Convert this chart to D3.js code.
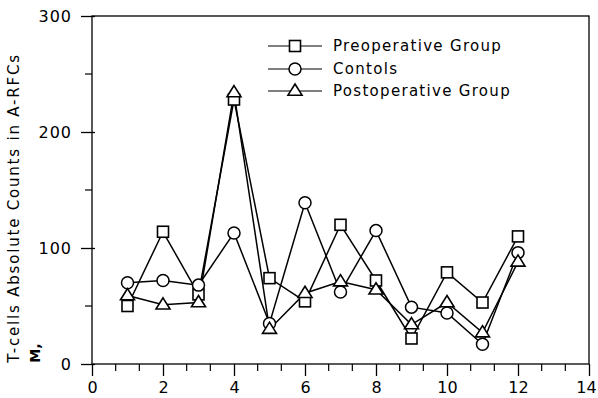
<!DOCTYPE html>
<html>
<head>
<meta charset="utf-8">
<script src="https://cdn.jsdelivr.net/npm/d3@7"></script>
<style>
  html, body { margin: 0; padding: 0; background: #fff; }
  text { font-family: "DejaVu Sans", sans-serif; fill: #000; }
</style>
</head>
<body>
<svg id="chart" width="598" height="398"></svg>
<script>
// Months of observation
const months = [1, 2, 3, 4, 5, 6, 7, 8, 9, 10, 11, 12];
// T-cell absolute counts in A-RFCs per group
const preoperative  = [50, 114, 60, 228, 74, 54, 120, 72, 22, 79, 53, 110];
const controls      = [70, 72, 68, 113, 35, 139, 62, 115, 49, 44, 17, 96];
const postoperative = [59, 51, 53, 234, 30, 61, 71, 64, 34, 53, 27, 88];
const seriesNames = ["Preoperative Group", "Contols", "Postoperative Group"];
const xTicks = [0, 2, 4, 6, 8, 10, 12, 14];
const yTicks = [0, 100, 200, 300];
const yLabel = "T-cells Absolute Counts in  A-RFCs";

const svg = d3.select("#chart");
const plotLeft = 92, plotRight = 589, plotTop = 16, plotBottom = 364;

const x = d3.scaleLinear().domain([0, 14]).range([plotLeft, plotRight]);
const y = d3.scaleLinear().domain([0, 300]).range([plotBottom, plotTop]);

// Frame
svg.append("rect")
  .attr("x", plotLeft).attr("y", plotTop)
  .attr("width", plotRight - plotLeft).attr("height", plotBottom - plotTop)
  .attr("fill", "none").attr("stroke", "#000").attr("stroke-width", 1.3);

// Minor ticks: thirds of each 2-unit step on x, halves on y
const xMinor = d3.range(0, 14.0001, 2 / 3).filter(v => Math.abs(v / 2 - Math.round(v / 2)) > 0.01);
svg.append("g").selectAll("line").data(xMinor).join("line")
  .attr("x1", d => x(d)).attr("x2", d => x(d))
  .attr("y1", plotBottom).attr("y2", plotBottom + 7)
  .attr("stroke", "#000").attr("stroke-width", 1.2);
const yMinor = [50, 150, 250];
svg.append("g").selectAll("line").data(yMinor).join("line")
  .attr("x1", plotLeft - 7).attr("x2", plotLeft)
  .attr("y1", d => y(d)).attr("y2", d => y(d))
  .attr("stroke", "#000").attr("stroke-width", 1.2);

// Axes with major ticks
const xAxis = d3.axisBottom(x).tickValues(xTicks).tickSize(12).tickPadding(6).tickFormat(d3.format("d"));
const gx = svg.append("g").attr("transform", `translate(0,${plotBottom})`).call(xAxis);
gx.select(".domain").remove();
gx.selectAll("line").attr("stroke", "#000").attr("stroke-width", 1.3);
gx.selectAll("text").attr("font-size", 16).attr("font-family", "DejaVu Sans, sans-serif")
  .attr("dx", d => d === 14 ? -3 : 0);

const yAxis = d3.axisLeft(y).tickValues(yTicks).tickSize(12).tickPadding(8).tickFormat(d3.format("d"));
const gy = svg.append("g").attr("transform", `translate(${plotLeft},0)`).call(yAxis);
gy.select(".domain").remove();
gy.selectAll("line").attr("stroke", "#000").attr("stroke-width", 1.3).attr("x2", 3).attr("x1", -11);
gy.selectAll("text").attr("font-size", 16).attr("letter-spacing", 1).attr("font-family", "DejaVu Sans, sans-serif");

// Y axis title
svg.append("text")
  .attr("transform", "translate(19,208) rotate(-90)")
  .attr("text-anchor", "middle")
  .attr("font-size", 15).attr("letter-spacing", 1.8)
  .text(yLabel);
svg.append("text")
  .attr("transform", "translate(40,353) rotate(-90)")
  .attr("text-anchor", "middle")
  .attr("font-size", 14).attr("font-weight", "bold")
  .text("M,");

// Series
const series = [
  { name: seriesNames[0], values: preoperative, shape: "square" },
  { name: seriesNames[1], values: controls, shape: "circle" },
  { name: seriesNames[2], values: postoperative, shape: "triangle" }
];

const line = d3.line().x((d, i) => x(months[i])).y(d => y(d));

function drawMarker(g, shape, cx, cy) {
  if (shape === "square") {
    g.append("rect").attr("x", cx - 5.5).attr("y", cy - 5.5).attr("width", 11).attr("height", 11)
      .attr("fill", "#fff").attr("stroke", "#000").attr("stroke-width", 1.6);
  } else if (shape === "circle") {
    g.append("circle").attr("cx", cx).attr("cy", cy).attr("r", 6)
      .attr("fill", "#fff").attr("stroke", "#000").attr("stroke-width", 1.5);
  } else {
    const s = 7;
    g.append("path").attr("d", `M${cx},${cy - s}L${cx + s},${cy + s * 0.6}L${cx - s},${cy + s * 0.6}Z`)
      .attr("fill", "#fff").attr("stroke", "#000").attr("stroke-width", 1.6);
  }
}

series.forEach(s => {
  svg.append("path").datum(s.values).attr("d", line)
    .attr("fill", "none").attr("stroke", "#000").attr("stroke-width", 1.5);
});
series.forEach(s => {
  const g = svg.append("g");
  s.values.forEach((v, i) => drawMarker(g, s.shape, x(months[i]), y(v)));
});

// Legend
const legendRows = [46, 69, 91];
series.forEach((s, i) => {
  const ly = legendRows[i];
  const g = svg.append("g");
  g.append("line").attr("x1", 268).attr("x2", 322).attr("y1", ly).attr("y2", ly)
    .attr("stroke", "#000").attr("stroke-width", 1.2);
  drawMarker(g, s.shape, 295, ly);
  g.append("text").attr("x", 333).attr("y", ly + 5)
    .attr("font-size", 15).attr("letter-spacing", 1.3)
    .text(s.name);
});
</script>
</body>
</html>
